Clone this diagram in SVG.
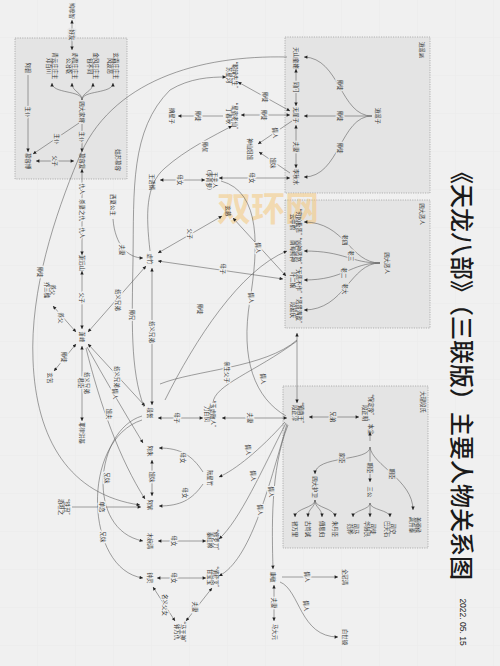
<svg xmlns="http://www.w3.org/2000/svg" width="500" height="666" viewBox="0 0 500 666">
<defs>
<pattern id="grid" width="38" height="38" patternUnits="userSpaceOnUse"><path d="M38,0V38H0" fill="none" stroke="#e8e8e8" stroke-width="0.6"/></pattern>
<marker id="a" viewBox="0 0 6 6" refX="6" refY="3" markerWidth="4" markerHeight="3.4" orient="auto-start-reverse" markerUnits="userSpaceOnUse"><path d="M0,0L6,3L0,6z" fill="#222"/></marker>
</defs>
<style>
.t{font-family:"Noto Sans CJK SC","Noto Sans",sans-serif;font-size:5.4px;fill:#333;text-anchor:middle;dominant-baseline:central}
.lb{stroke:#f0f0f0;stroke-width:2.4px;paint-order:stroke}
.li{stroke:#e4e4e4;stroke-width:2.4px;paint-order:stroke}
.box{fill:#e4e4e4;stroke:#9a9a9a;stroke-width:0.7;stroke-dasharray:1.2 1.2}
.c path{fill:none;stroke:#555;stroke-width:0.55}
.title{font-family:"Noto Sans CJK SC",sans-serif;font-size:24px;font-weight:500;fill:#1a1a1a;text-anchor:middle;dominant-baseline:central}
</style>
<rect width="500" height="666" fill="#f0f0f0"/>
<rect width="500" height="666" fill="url(#grid)"/>
<g id="boxes">
<rect class="box" x="15" y="38" width="112" height="141"/>
<rect class="box" x="285" y="37" width="145" height="156"/>
<rect class="box" x="285" y="200" width="145" height="128"/>
<rect class="box" x="283" y="386" width="145" height="162"/>
<text class="t" transform="translate(118,160) rotate(90)">姑苏慕容</text>
<text class="t" transform="translate(422,50) rotate(90)">逍遥派</text>
<text class="t" transform="translate(422,214) rotate(90)">四大恶人</text>
<text class="t" transform="translate(423,402) rotate(90)">大理段氏</text>
</g>
<text x="268" y="206" font-family="Noto Sans CJK SC,sans-serif" font-size="34" font-weight="700" fill="#f5c77a" fill-opacity="0.55" text-anchor="middle" dominant-baseline="central">双环网</text>
<g id="connectors" class="c" marker-end="url(#a)">
<path d="M72,20V50" marker-start="url(#a)"/>
<path d="M82,100C82,90 52,94 52,83"/>
<path d="M82,100C82,92 72,92 72,83"/>
<path d="M82,100C82,92 93,92 93,83"/>
<path d="M82,100C82,90 113,94 113,83"/>
<path d="M82,124V152"/>
<path d="M79,123L33,154"/>
<path d="M28,75V152"/>
<path d="M36,161H74" marker-start="url(#a)"/>
<path d="M82,169V255" marker-start="url(#a)"/>
<path d="M82,271V329" marker-start="url(#a)"/>
<path d="M76,332L53,306" marker-start="url(#a)"/>
<path d="M76,344L54,371" marker-start="url(#a)"/>
<path d="M82,346V421" marker-start="url(#a)"/>
<path d="M88,332L146,266" marker-start="url(#a)"/>
<path d="M88,344L145,406" marker-start="url(#a)"/>
<path d="M87,347Q112,392 143,443"/>
<path d="M86,348C100,405 120,460 145,499"/>
<path d="M152,460V496" marker-start="url(#a)"/>
<path d="M72,507H141"/>
<path d="M203,472C192,455 180,448 159,448"/>
<path d="M203,484C192,500 180,506 159,506"/>
<path d="M158,418H203" marker-start="url(#a)"/>
<path d="M222,418H287" marker-start="url(#a)"/>
<path d="M309,417H359" marker-start="url(#a)"/>
<path d="M297,403V333" marker-start="url(#a)"/>
<path d="M213,403C214,385 255,372 297,341" marker-end="none"/>
<path d="M160,384C195,370 265,368 297,340" marker-end="none"/>
<path d="M165,400C195,340 240,270 287,251"/>
<path d="M286,416C255,398 240,360 250,300C258,250 262,192 221,181" marker-end="none"/>
<path d="M290,178H219" marker-start="url(#a)"/>
<path d="M205,180H160" marker-start="url(#a)"/>
<path d="M113,219C115,245 128,258 143,258"/>
<path d="M152,268V405" marker-start="url(#a)"/>
<path d="M158,253L222,216" marker-start="url(#a)"/>
<path d="M158,261L283,279" marker-start="url(#a)"/>
<path d="M233,218L286,276" marker-start="url(#a)"/>
<path d="M241,115H290" marker-start="url(#a)"/>
<path d="M290,111L238,82" marker-start="url(#a)"/>
<path d="M223,116H178"/>
<path d="M292,121L258,144"/>
<path d="M290,173L259,152"/>
<path d="M296,69V106" marker-start="url(#a)"/>
<path d="M296,125V168" marker-start="url(#a)"/>
<path d="M372,116C340,116 340,58 304,57"/>
<path d="M372,116H304"/>
<path d="M372,116C340,116 340,177 304,177"/>
<path d="M380,263C350,263 345,222 304,222"/>
<path d="M380,263C350,263 345,251 304,251"/>
<path d="M380,263C350,263 345,280 304,280"/>
<path d="M380,263C350,263 345,310 304,310"/>
<path d="M370,441V432"/>
<path d="M370,447C370,462 315,455 315,474"/>
<path d="M370,447V482"/>
<path d="M370,447C372,465 413,480 413,510"/>
<path d="M315,500C315,508 295,508 295,517"/>
<path d="M315,500C315,508 308,508 308,517"/>
<path d="M315,500C315,508 322,508 322,517"/>
<path d="M315,500C315,508 335,508 335,517"/>
<path d="M370,503C370,510 353,510 353,517"/>
<path d="M370,503V517"/>
<path d="M370,503C370,510 390,510 390,517"/>
<path d="M285,422C260,450 235,470 219,477"/>
<path d="M286,423C262,470 240,520 219,539"/>
<path d="M287,424C268,490 250,560 219,576"/>
<path d="M288,425C270,470 272,530 273,569"/>
<path d="M206,541H158" marker-start="url(#a)"/>
<path d="M206,578H157" marker-start="url(#a)"/>
<path d="M212,588L186,621" marker-start="url(#a)"/>
<path d="M153,587L175,621" marker-start="url(#a)"/>
<path d="M274,585V621" marker-start="url(#a)"/>
<path d="M282,577H338"/>
<path d="M280,582C300,590 300,637 338,637"/>
<path d="M142,416C95,430 85,530 143,541"/>
<path d="M142,420C80,440 85,570 143,578"/>
<path d="M287,57C200,55 110,80 78,160C55,215 30,290 33,360C36,440 70,495 140,505"/>
<path d="M144,407C130,370 132,320 133,260C134,190 130,130 170,90C190,78 210,77 226,77"/>
<path d="M150,251C146,215 145,185 165,168C185,150 215,135 232,126"/>
</g>
<g id="labels">
<text class="t li" transform="translate(72,35) rotate(90)">好友</text>
<text class="t li" transform="translate(82,137) rotate(90)">主仆</text>
<text class="t li" transform="translate(57,139) rotate(90)">主仆</text>
<text class="t li" transform="translate(28,112) rotate(90)">主仆</text>
<text class="t li" transform="translate(55,161) rotate(90)">父子</text>
<text class="t lb" transform="translate(82,189) rotate(90)">仇人</text>
<text class="t lb" transform="translate(82,210) rotate(90)">杀妻之仇</text>
<text class="t lb" transform="translate(82,233) rotate(90)">仇人</text>
<text class="t lb" transform="translate(82,298) rotate(90)">父子</text>
<text class="t lb" transform="translate(61,318) rotate(90)">养父</text>
<text class="t lb" transform="translate(64,357) rotate(90)">师徒</text>
<text class="t lb" transform="translate(84,383) rotate(90)"><tspan x="0" y="-3.2">结义兄弟</tspan><tspan x="0" y="3.2">君臣</tspan></text>
<text class="t lb" transform="translate(118,300) rotate(90)">结义兄弟</text>
<text class="t lb" transform="translate(117,377) rotate(90)">结义兄弟</text>
<text class="t lb" transform="translate(115,394) rotate(90)">情人</text>
<text class="t lb" transform="translate(109,414) rotate(90)">姐夫</text>
<text class="t lb" transform="translate(152,477) rotate(90)">姐妹</text>
<text class="t lb" transform="translate(102,507) rotate(90)">单恋</text>
<text class="t lb" transform="translate(183,458) rotate(90)">母女</text>
<text class="t lb" transform="translate(185,493) rotate(90)">母女</text>
<text class="t lb" transform="translate(177,418) rotate(90)">母子</text>
<text class="t lb" transform="translate(250,418) rotate(90)">夫妻</text>
<text class="t li" transform="translate(333,417) rotate(90)">兄弟</text>
<text class="t lb" transform="translate(263,379) rotate(90)">情人</text>
<text class="t lb" transform="translate(227,372) rotate(90)">亲生父子</text>
<text class="t lb" transform="translate(200,309) rotate(90)">师徒</text>
<text class="t lb" transform="translate(251,298) rotate(90)">情人</text>
<text class="t lb" transform="translate(252,178) rotate(90)">母女</text>
<text class="t lb" transform="translate(180,180) rotate(90)">母女</text>
<text class="t lb" transform="translate(122,250) rotate(90)">夫妻</text>
<text class="t lb" transform="translate(152,332) rotate(90)">结义兄弟</text>
<text class="t lb" transform="translate(190,234) rotate(90)">父子</text>
<text class="t lb" transform="translate(223,269) rotate(90)">母子</text>
<text class="t lb" transform="translate(258,248) rotate(90)">情人</text>
<text class="t lb" transform="translate(264,115) rotate(90)">师徒</text>
<text class="t lb" transform="translate(265,97) rotate(90)">师徒</text>
<text class="t lb" transform="translate(198,116) rotate(90)">师徒</text>
<text class="t lb" transform="translate(275,133) rotate(90)">情人</text>
<text class="t lb" transform="translate(273,163) rotate(90)">姐妹</text>
<text class="t li" transform="translate(296,87) rotate(90)">同门</text>
<text class="t li" transform="translate(296,147) rotate(90)">夫妻</text>
<text class="t li" transform="translate(340,85) rotate(90)">师徒</text>
<text class="t li" transform="translate(340,116) rotate(90)">师徒</text>
<text class="t li" transform="translate(340,148) rotate(90)">师徒</text>
<text class="t li" transform="translate(345,240) rotate(90)">老四</text>
<text class="t li" transform="translate(351,256) rotate(90)">老三</text>
<text class="t li" transform="translate(344,273) rotate(90)">老二</text>
<text class="t li" transform="translate(345,289) rotate(90)">老大</text>
<text class="t li" transform="translate(342,458) rotate(90)">家臣</text>
<text class="t li" transform="translate(370,468) rotate(90)">朝臣</text>
<text class="t li" transform="translate(392,474) rotate(90)">朝臣</text>
<text class="t lb" transform="translate(248,450) rotate(90)">情人</text>
<text class="t lb" transform="translate(253,476) rotate(90)">情人</text>
<text class="t lb" transform="translate(260,510) rotate(90)">情人</text>
<text class="t lb" transform="translate(271,492) rotate(90)">情人</text>
<text class="t lb" transform="translate(174,541) rotate(90)">母女</text>
<text class="t lb" transform="translate(174,578) rotate(90)">母女</text>
<text class="t lb" transform="translate(195,607) rotate(90)">夫妻</text>
<text class="t lb" transform="translate(165,605) rotate(90)">名义父女</text>
<text class="t lb" transform="translate(274,603) rotate(90)">夫妻</text>
<text class="t lb" transform="translate(307,577) rotate(90)">情人</text>
<text class="t lb" transform="translate(306,606) rotate(90)">情人</text>
<text class="t lb" transform="translate(107,478) rotate(90)">兄妹</text>
<text class="t lb" transform="translate(103,537) rotate(90)">兄妹</text>
<text class="t lb" transform="translate(40,272) rotate(90)">师徒</text>
<text class="t lb" transform="translate(132,315) rotate(90)">师兄</text>
<text class="t lb" transform="translate(205,147) rotate(90)">师叔</text>
</g>
<g id="nodes">
<g id="n1"><text class="t" transform="translate(72,11) rotate(90)">鸠摩智</text></g>
<g id="n2"><text class="t" transform="translate(52,66) rotate(90)"><tspan x="0" y="-3.2">青云庄庄主</tspan><tspan x="0" y="3.2">邓百川</tspan></text></g>
<g id="n3"><text class="t" transform="translate(72,66) rotate(90)"><tspan x="0" y="-3.2">赤霞庄庄主</tspan><tspan x="0" y="3.2">公冶乾</tspan></text></g>
<g id="n4"><text class="t" transform="translate(93,66) rotate(90)"><tspan x="0" y="-3.2">金风庄庄主</tspan><tspan x="0" y="3.2">包不同</tspan></text></g>
<g id="n5"><text class="t" transform="translate(113,66) rotate(90)"><tspan x="0" y="-3.2">玄霜庄庄主</tspan><tspan x="0" y="3.2">风波恶</tspan></text></g>
<g id="n6"><text class="t" transform="translate(82,112) rotate(90)">四大家将</text></g>
<g id="n7"><text class="t" transform="translate(28,68) rotate(90)">阿碧</text></g>
<g id="n8"><text class="t" transform="translate(28,161) rotate(90)">慕容博</text></g>
<g id="n9"><text class="t" transform="translate(82,161) rotate(90)">慕容复</text></g>
<g id="n10"><text class="t" transform="translate(296,58) rotate(90)">天山童姥</text></g>
<g id="n11"><text class="t" transform="translate(296,115) rotate(90)">无崖子</text></g>
<g id="n12"><text class="t" transform="translate(296,177) rotate(90)">李秋水</text></g>
<g id="n13"><text class="t" transform="translate(378,116) rotate(90)">逍遥子</text></g>
<g id="n14"><text class="t" transform="translate(296,222) rotate(90)"><tspan x="0" y="-3.2">“穷凶极恶”</tspan><tspan x="0" y="3.2">云中鹤</tspan></text></g>
<g id="n15"><text class="t" transform="translate(296,251) rotate(90)"><tspan x="0" y="-3.2">“凶神恶煞”</tspan><tspan x="0" y="3.2">南海鳄神</tspan></text></g>
<g id="n16"><text class="t" transform="translate(296,280) rotate(90)"><tspan x="0" y="-3.2">“无恶不作”</tspan><tspan x="0" y="3.2">叶二娘</tspan></text></g>
<g id="n17"><text class="t" transform="translate(296,310) rotate(90)"><tspan x="0" y="-3.2">“恶贯满盈”</tspan><tspan x="0" y="3.2">段延庆</tspan></text></g>
<g id="n18"><text class="t" transform="translate(387,263) rotate(90)">四大恶人</text></g>
<g id="n19"><text class="t" transform="translate(298,413) rotate(90)"><tspan x="0" y="-3.2">“镇南王”</tspan><tspan x="0" y="3.2">段正淳</tspan></text></g>
<g id="n20"><text class="t" transform="translate(368,413) rotate(90)"><tspan x="0" y="-3.2">“保定帝”，本尘</tspan><tspan x="0" y="3.2">段正明</tspan></text></g>
<g id="n21"><text class="t" transform="translate(315,487) rotate(90)">四大护卫</text></g>
<g id="n22"><text class="t" transform="translate(370,492) rotate(90)">三公</text></g>
<g id="n23"><text class="t" transform="translate(415,525) rotate(90)"><tspan x="0" y="-3.2">善阐侯</tspan><tspan x="0" y="3.2">高升泰</tspan></text></g>
<g id="n24"><text class="t" transform="translate(295,529) rotate(90)">褚万里</text></g>
<g id="n25"><text class="t" transform="translate(308,529) rotate(90)">古笃诚</text></g>
<g id="n26"><text class="t" transform="translate(322,529) rotate(90)">傅思归</text></g>
<g id="n27"><text class="t" transform="translate(335,529) rotate(90)">朱丹臣</text></g>
<g id="n28"><text class="t" transform="translate(353,529) rotate(90)"><tspan x="0" y="-3.2">司马</tspan><tspan x="0" y="3.2">范骅</tspan></text></g>
<g id="n29"><text class="t" transform="translate(370,529) rotate(90)"><tspan x="0" y="-3.2">司徒</tspan><tspan x="0" y="3.2">华赫艮</tspan></text></g>
<g id="n30"><text class="t" transform="translate(390,529) rotate(90)"><tspan x="0" y="-3.2">司空</tspan><tspan x="0" y="3.2">巴天石</tspan></text></g>
<g id="n31"><text class="t" transform="translate(232,75) rotate(90)"><tspan x="0" y="-3.2">“聪辩先生”</tspan><tspan x="0" y="3.2">苏星河</tspan></text></g>
<g id="n32"><text class="t" transform="translate(232,116) rotate(90)"><tspan x="0" y="-3.2">“星宿老仙”</tspan><tspan x="0" y="3.2">丁春秋</tspan></text></g>
<g id="n33"><text class="t" transform="translate(172,116) rotate(90)">摘星子</text></g>
<g id="n34"><text class="t" transform="translate(250,149) rotate(90)">神仙姐姐</text></g>
<g id="n35"><text class="t" transform="translate(152,182) rotate(90)">王语嫣</text></g>
<g id="n36"><text class="t" transform="translate(212,180) rotate(90)"><tspan x="0" y="-3.2">王夫人</tspan><tspan x="0" y="3.2">（李青萝）</tspan></text></g>
<g id="n37"><text class="t" transform="translate(113,205) rotate(90)">西夏公主</text></g>
<g id="n38"><text class="t" transform="translate(228,211) rotate(90)">玄慈</text></g>
<g id="n39"><text class="t" transform="translate(150,259) rotate(90)">虚竹</text></g>
<g id="n40"><text class="t" transform="translate(82,263) rotate(90)">萧远山</text></g>
<g id="n41"><text class="t" transform="translate(82,337) rotate(90)">萧峰</text></g>
<g id="n42"><text class="t" transform="translate(50,290) rotate(90)"><tspan x="0" y="-3.2">养父</tspan><tspan x="0" y="3.2">乔三槐</tspan></text></g>
<g id="n43"><text class="t" transform="translate(50,378) rotate(90)">玄苦</text></g>
<g id="n44"><text class="t" transform="translate(82,433) rotate(90)">耶律洪基</text></g>
<g id="n45"><text class="t" transform="translate(150,413) rotate(90)">段誉</text></g>
<g id="n46"><text class="t" transform="translate(210,414) rotate(90)"><tspan x="0" y="-3.2">“玉虚散人”</tspan><tspan x="0" y="3.2">刀白凤</tspan></text></g>
<g id="n47"><text class="t" transform="translate(150,451) rotate(90)">阿朱</text></g>
<g id="n48"><text class="t" transform="translate(210,478) rotate(90)">阮星竹</text></g>
<g id="n49"><text class="t" transform="translate(150,505) rotate(90)">阿紫</text></g>
<g id="n50"><text class="t" transform="translate(64,507) rotate(90)"><tspan x="0" y="-3.2">“铁丑”</tspan><tspan x="0" y="3.2">游坦之</tspan></text></g>
<g id="n51"><text class="t" transform="translate(150,541) rotate(90)">木婉清</text></g>
<g id="n52"><text class="t" transform="translate(150,578) rotate(90)">钟灵</text></g>
<g id="n53"><text class="t" transform="translate(213,540) rotate(90)"><tspan x="0" y="-3.2">“修罗刀”</tspan><tspan x="0" y="3.2">秦红棉</tspan></text></g>
<g id="n54"><text class="t" transform="translate(213,577) rotate(90)"><tspan x="0" y="-3.2">“俏药叉”</tspan><tspan x="0" y="3.2">甘宝宝</tspan></text></g>
<g id="n55"><text class="t" transform="translate(180,632) rotate(90)"><tspan x="0" y="-3.2">“马王神”</tspan><tspan x="0" y="3.2">钟万仇</tspan></text></g>
<g id="n56"><text class="t" transform="translate(273,577) rotate(90)">康敏</text></g>
<g id="n57"><text class="t" transform="translate(275,632) rotate(90)">马大元</text></g>
<g id="n58"><text class="t" transform="translate(345,577) rotate(90)">全冠清</text></g>
<g id="n59"><text class="t" transform="translate(345,637) rotate(90)">白世镜</text></g>
</g>
<text class="title" transform="translate(463,370) rotate(90)">《天龙八部》（三联版）主要人物关系图</text>
<text transform="translate(463,622) rotate(90)" font-family="Liberation Sans,sans-serif" font-size="8.5" fill="#222" text-anchor="middle" dominant-baseline="central">2022. 05. 15</text>
</svg>
